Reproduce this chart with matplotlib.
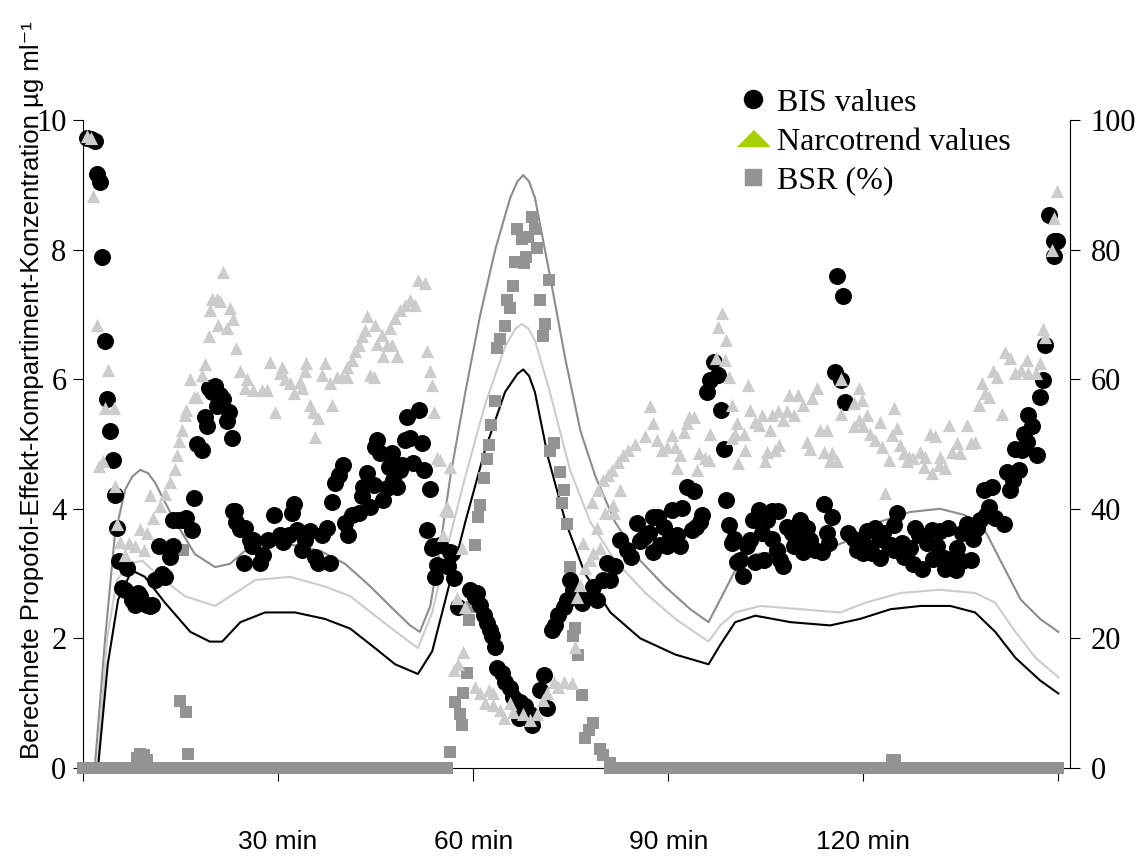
import matplotlib
matplotlib.use("Agg")
import matplotlib.pyplot as plt
from matplotlib.lines import Line2D

plt.rcParams["font.family"] = ["Liberation Serif", "DejaVu Serif"]

# calculated effect-site concentrations (left axis, ug/ml)
hi_t = [1.8, 3.4, 4.9, 6.5, 7.6, 8.8, 10.0, 11.1, 12.6, 14.2, 17.2, 20.3, 22.6, 24.9, 28.0, 31.8,
        36.5, 40.3, 44.2, 47.2, 50.3, 51.8, 53.4, 54.9, 56.5, 58.8, 61.1, 63.4, 65.7, 66.8, 67.7,
        68.6, 69.5, 71.8, 74.2, 76.5, 78.8, 81.8, 85.7, 89.5, 93.4, 96.2, 98.0, 100.3, 103.4,
        108.8, 114.9, 118.8, 122.6, 127.2, 131.8, 135.7, 138.8, 141.1, 144.2, 147.2, 150.0]
hi_c = [0.0, 2.0, 3.6, 4.3, 4.5, 4.6, 4.55, 4.4, 4.1, 3.8, 3.3, 3.1, 3.15, 3.35, 3.45, 3.45,
        3.35, 3.15, 2.8, 2.5, 2.2, 2.1, 2.5, 3.4, 4.5, 5.8, 7.0, 8.0, 8.8, 9.05, 9.15,
        9.05, 8.8, 7.6, 6.3, 5.2, 4.5, 3.8, 3.2, 2.8, 2.45, 2.25, 2.6, 3.05, 3.3,
        3.35, 3.4, 3.55, 3.8, 3.95, 4.0, 3.9, 3.65, 3.2, 2.6, 2.3, 2.1]

mid_t = [2.2, 3.7, 5.2, 7.2, 9.1, 11.8, 15.7, 20.3, 23.4, 26.5, 31.8, 37.2, 41.1, 44.9, 48.8,
         51.5, 53.7, 56.0, 58.8, 61.8, 64.9, 66.5, 67.5, 68.5, 69.5, 71.8, 74.9, 78.0, 81.8,
         86.5, 91.1, 96.2, 98.0, 100.3, 104.2, 110.3, 116.5, 120.3, 125.7, 131.8, 137.2, 140.3,
         143.4, 146.5, 150.0]
mid_c = [0.0, 2.0, 2.9, 3.15, 3.2, 2.95, 2.65, 2.5, 2.7, 2.9, 2.95, 2.8, 2.65, 2.35, 2.05,
         1.85, 2.4, 3.4, 4.5, 5.6, 6.5, 6.78, 6.85, 6.78, 6.6, 5.8, 4.6, 3.8, 3.2,
         2.7, 2.3, 1.95, 2.2, 2.4, 2.5, 2.45, 2.4, 2.55, 2.7, 2.75, 2.7, 2.55,
         2.1, 1.7, 1.4]

lo_t = [2.3, 3.8, 5.4, 7.5, 9.5, 12.6, 16.5, 19.5, 21.4, 24.2, 28.0, 32.6, 37.2, 41.1, 44.9,
        48.0, 51.5, 53.7, 56.0, 58.8, 61.8, 64.9, 66.8, 67.7, 68.6, 69.5, 71.5, 74.2, 77.2,
        81.1, 85.7, 91.1, 96.2, 98.0, 100.3, 103.4, 108.8, 114.9, 119.5, 124.2, 128.8, 133.4,
        137.2, 140.3, 143.4, 147.2, 150.0]
lo_c = [0.0, 1.6, 2.6, 3.05, 2.95, 2.55, 2.1, 1.95, 1.95, 2.25, 2.4, 2.4, 2.3, 2.15, 1.85,
        1.6, 1.45, 1.8, 2.7, 3.8, 4.9, 5.8, 6.08, 6.15, 6.05, 5.8, 4.8, 3.8, 3.0,
        2.4, 2.0, 1.75, 1.6, 1.9, 2.25, 2.35, 2.25, 2.2, 2.3, 2.45, 2.5, 2.5,
        2.4, 2.1, 1.7, 1.35, 1.15]

# BIS values (right axis)
bis_t = [0.6, 1.2, 1.8, 2.1, 2.6, 2.9, 3.4, 3.7, 4.2, 4.6, 4.9, 5.2, 5.6, 6.0, 6.5, 6.7, 7.5,
         8.0, 8.5, 8.8, 9.2, 9.8, 10.3, 10.6, 11.1, 11.7, 12.2, 12.6, 13.4, 13.9, 13.9, 14.6,
         15.4, 15.9, 16.7, 17.0, 17.5, 18.3, 18.8, 19.0, 19.3, 19.8, 20.3, 20.6, 21.1, 21.6,
         22.1, 22.4, 22.9, 23.1, 23.4, 23.6, 24.2, 24.7, 24.9, 25.7, 26.0, 26.2, 27.2, 27.7,
         28.5, 29.3, 30.3, 30.8, 31.6, 32.1, 32.5, 32.9, 33.6, 34.2, 34.9, 35.7, 36.2, 36.7,
         37.5, 38.0, 38.3, 38.8, 39.3, 40.0, 40.3, 40.8, 41.3, 42.4, 42.9, 43.1, 43.6, 44.2,
         44.7, 44.9, 45.2, 45.7, 46.2, 46.7, 47.0, 47.5, 47.7, 48.3, 48.8, 49.0, 49.5, 49.8,
         50.3, 50.8, 51.6, 52.1, 52.4, 52.9, 53.3, 53.6, 53.9, 54.2, 54.4, 54.9, 55.9, 56.2,
         56.5, 56.7, 57.0, 57.7, 59.5, 60.3, 60.6, 61.1, 61.6, 62.1, 62.6, 62.9, 63.4, 63.6,
         64.4, 64.9, 65.7, 66.2, 67.0, 67.2, 68.0, 68.8, 69.0, 70.3, 70.9, 71.3, 72.1, 72.6,
         73.1, 73.9, 74.4, 74.9, 75.4, 76.7, 77.5, 78.5, 79.0, 80.0, 80.6, 81.1, 81.8, 82.6,
         83.6, 84.2, 85.2, 85.7, 86.2, 87.0, 87.7, 87.7, 88.5, 88.8, 89.3, 89.8, 90.3, 90.6,
         91.3, 91.8, 92.1, 92.9, 93.6, 93.9, 94.2, 94.9, 95.2, 96.0, 96.5, 97.0, 97.7, 98.1,
         98.6, 98.9, 99.3, 99.8, 100.1, 100.6, 101.1, 101.5, 102.1, 102.6, 103.1, 103.4, 103.9,
         104.4, 104.7, 105.2, 105.9, 105.9, 106.7, 106.9, 107.2, 107.7, 108.2, 109.0, 109.3,
         109.8, 110.3, 110.8, 110.9, 111.3, 111.8, 112.6, 113.6, 113.9, 114.4, 114.7, 115.2,
         115.7, 115.9, 116.5, 116.9, 117.2, 117.7, 118.5, 119.0, 119.5, 120.0, 120.0, 120.6,
         121.1, 121.3, 121.6, 121.8, 122.6, 122.6, 123.1, 123.9, 124.2, 124.7, 124.7, 125.2,
         126.0, 126.2, 127.2, 127.7, 128.0, 128.5, 129.0, 129.8, 130.6, 130.8, 131.3, 131.8,
         132.4, 132.6, 133.1, 133.6, 134.3, 134.4, 135.2, 135.2, 136.0, 136.5, 136.9, 137.5,
         138.0, 138.5, 138.8, 139.4, 139.8, 140.3, 141.6, 142.1, 142.6, 143.1, 143.4, 143.9,
         144.4, 144.7, 145.2, 145.4, 146.0, 146.7, 147.2, 147.7, 148.0, 148.5, 149.3, 149.8,
         149.3]
bis_v = [97.2, 97.0, 96.8, 91.7, 90.5, 78.8, 65.9, 57.0, 52.0, 47.5, 42.1, 37.0, 32.0, 27.7, 27.5,
         30.9, 25.9, 25.2, 27.0, 26.5, 25.5, 25.2, 25.0, 25.1, 29.0, 34.2, 30.0, 29.5, 32.5, 34.2,
         38.3, 38.3, 38.3, 38.5, 36.8, 41.6, 50.0, 49.0, 54.2, 52.8, 58.6, 58.0, 59.0, 55.9, 57.5,
         56.9, 53.5, 54.9, 50.9, 39.7, 39.6, 38.0, 36.9, 31.6, 37.0, 35.2, 34.2, 35.2, 31.6, 32.9,
         35.2, 39.0, 36.0, 34.9, 36.0, 39.3, 40.8, 36.7, 33.6, 35.2, 36.5, 32.6, 31.6, 36.0, 37.0,
         31.6, 41.1, 43.9, 45.2, 46.8, 37.8, 36.0, 39.0, 39.3, 41.9, 43.4, 45.5, 40.3, 43.7, 49.6,
         50.6, 48.6, 41.4, 43.2, 46.5, 48.6, 44.4, 43.4, 46.0, 46.8, 50.6, 54.2, 50.9, 47.0, 55.2,
         50.1, 46.0, 36.7, 43.0, 33.9, 34.2, 29.5, 31.3, 34.4, 31.1, 31.1, 33.4, 33.1, 29.3, 24.9,
         27.5, 26.4, 27.0, 25.2, 23.6, 22.3, 21.3, 20.3, 18.7, 15.4, 14.6, 13.3, 12.3, 11.0, 7.7,
         10.2, 9.5, 8.4, 6.6, 12.0, 14.4, 9.2, 21.3, 22.1, 23.6, 24.9, 25.9, 29.0, 27.5, 25.4,
         26.4, 28.0, 25.9, 29.0, 31.6, 29.0, 31.1, 35.2, 33.6, 32.6, 37.8, 35.0, 35.7, 36.2, 38.8,
         33.4, 38.8, 34.4, 37.2, 34.2, 35.8, 39.8, 36.0, 34.2, 40.1, 43.4, 36.7, 42.7, 37.2, 38.0,
         39.0, 58.0, 59.9, 62.7, 60.6, 55.2, 49.2, 41.3, 37.5, 34.7, 35.4, 31.8, 32.1, 29.6, 34.2,
         35.2, 38.3, 31.8, 39.8, 36.2, 32.1, 38.3, 35.4, 39.6, 33.6, 39.6, 32.1, 31.1, 37.2, 36.2,
         34.2, 35.7, 38.3, 33.4, 34.7, 37.0, 35.2, 33.6, 33.4, 40.8, 36.2, 34.7, 38.7, 61.1, 75.9,
         59.9, 72.9, 56.5, 36.2, 35.4, 33.6, 34.7, 33.1, 34.7, 36.5, 33.9, 33.1, 36.5, 37.0, 35.4,
         32.4, 36.2, 34.2, 34.4, 37.5, 33.6, 39.3, 34.7, 32.6, 33.9, 31.5, 37.0, 36.0, 30.7, 34.7,
         36.7, 32.3, 34.2, 36.5, 32.4, 30.7, 37.0, 32.3, 30.6, 33.9, 36.2, 32.0, 37.7, 32.1, 35.4,
         37.0, 38.3, 42.9, 39.0, 40.3, 43.4, 38.5, 37.7, 45.7, 42.9, 44.4, 49.3, 46.0, 49.1, 51.6,
         50.3, 54.5, 52.7, 48.3, 57.3, 59.9, 65.3, 85.4, 81.3, 81.3, 79.0]

# Narcotrend values (right axis)
nt_t = [0.6, 1.2, 1.6, 2.1, 2.4, 3.1, 3.4, 3.9, 4.7, 4.9, 5.2, 5.7, 6.5, 7.0, 8.0, 8.8, 9.3, 9.8,
        10.3, 10.8, 11.8, 12.6, 13.4, 14.2, 14.4, 14.7, 15.2, 15.7, 15.9, 16.5, 17.0, 17.5, 18.3,
        18.8, 19.3, 19.5, 19.8, 20.6, 20.8, 21.1, 21.6, 22.1, 22.6, 23.1, 23.6, 24.2, 24.9, 25.2,
        26.2, 27.5, 28.3, 28.8, 29.5, 30.3, 30.6, 31.1, 31.8, 32.4, 33.4, 33.6, 34.2, 34.3, 34.9,
        35.4, 35.7, 36.2, 36.7, 37.2, 38.0, 38.3, 39.0, 39.8, 40.6, 40.6, 41.3, 41.8, 42.4, 42.9,
        43.4, 43.6, 44.2, 44.7, 44.9, 45.2, 46.0, 46.2, 46.7, 47.2, 47.5, 48.0, 48.3, 48.8, 49.5,
        50.3, 51.1, 51.5, 52.6, 52.9, 53.3, 53.6, 54.0, 54.4, 54.9, 55.4, 55.7, 55.9, 56.2, 56.5,
        57.0, 57.5, 57.7, 58.3, 58.5, 58.8, 60.3, 61.1, 61.8, 62.4, 63.1, 63.1, 64.2, 64.7, 65.7,
        66.2, 67.7, 68.8, 69.8, 70.8, 71.3, 72.4, 73.1, 73.9, 75.2, 75.7, 75.9, 76.5, 76.9, 77.2,
        78.0, 78.3, 78.5, 79.0, 79.2, 79.5, 80.0, 80.3, 80.8, 81.4, 81.5, 81.6, 82.3, 82.6, 83.1,
        83.8, 84.9, 86.5, 87.2, 87.7, 88.3, 89.0, 89.8, 90.6, 91.1, 91.3, 91.8, 92.4, 92.9, 93.2,
        93.9, 94.4, 94.7, 95.7, 96.2, 96.5, 97.4, 97.7, 98.3, 98.8, 98.9, 99.3, 99.8, 99.8, 100.3,
        100.6, 100.8, 101.6, 101.8, 102.2, 102.6, 103.4, 103.9, 104.4, 104.9, 105.2, 105.7, 105.9,
        106.5, 106.9, 107.0, 107.7, 108.2, 108.5, 109.3, 110.0, 110.8, 111.3, 111.8, 112.1, 112.9,
        113.4, 113.9, 114.4, 114.9, 115.2, 115.9, 116.5, 116.5, 118.5, 118.5, 119.3, 119.3, 119.8,
        120.6, 120.0, 121.1, 121.8, 122.6, 122.9, 123.4, 123.9, 124.4, 124.7, 125.2, 125.7, 126.2,
        126.7, 127.0, 127.7, 128.8, 129.3, 129.5, 130.3, 130.6, 131.1, 131.6, 131.8, 132.6, 133.2,
        133.7, 134.4, 134.9, 136.0, 136.5, 137.2, 137.8, 138.2, 138.7, 139.4, 140.0, 140.6, 141.3,
        141.8, 142.6, 143.4, 144.2, 145.2, 145.4, 146.5, 147.2, 147.7, 148.0, 149.0, 149.3, 149.8]
nt_v = [97.6, 97.2, 88.3, 68.3, 46.6, 47.3, 55.6, 61.4, 55.6, 43.5, 37.6, 34.9, 32.8, 34.7, 34.2,
        36.9, 33.6, 36.3, 42.1, 38.6, 40.4, 42.3, 44.2, 46.2, 48.3, 50.4, 52.2, 54.5, 55.2, 60.0,
        57.3, 57.3, 60.7, 62.4, 66.6, 70.7, 72.4, 72.4, 68.3, 72.1, 76.6, 67.9, 71.0, 69.3, 64.8,
        61.2, 58.6, 60.1, 58.3, 58.3, 58.3, 62.7, 55.0, 60.9, 61.9, 60.1, 59.4, 57.8, 59.6, 58.6,
        61.2, 62.5, 56.0, 55.0, 51.1, 54.0, 60.6, 62.5, 59.4, 56.0, 60.4, 60.4, 60.4, 61.9, 63.0,
        64.3, 65.3, 66.6, 67.6, 69.7, 60.6, 60.4, 68.3, 65.5, 66.8, 63.5, 65.3, 67.9, 65.3, 69.4,
        63.5, 70.7, 71.5, 72.2, 71.5, 75.3, 74.8, 64.3, 61.2, 59.1, 55.0, 47.8, 47.5, 36.0, 39.8,
        40.3, 39.6, 46.5, 15.1, 26.2, 16.1, 33.9, 17.9, 24.9, 12.5, 11.5, 10.0, 12.0, 11.5, 9.7,
        9.0, 7.7, 10.0, 8.7, 8.4, 7.4, 8.4, 10.5, 11.5, 13.3, 12.5, 13.3, 13.1, 18.7, 26.4, 28.2,
        34.7, 30.8, 32.1, 41.1, 33.1, 37.0, 42.9, 33.9, 44.4, 39.3, 45.2, 46.0, 40.6, 39.3, 47.2,
        42.9, 48.3, 49.1, 50.0, 51.2, 55.8, 53.2, 50.6, 49.1, 49.6, 51.4, 49.6, 46.3, 48.3, 51.9,
        53.2, 54.2, 54.2, 46.0, 48.6, 47.8, 47.5, 51.6, 63.2, 68.1, 70.2, 63.0, 66.0, 60.4, 56.0,
        50.9, 51.6, 53.2, 47.0, 51.6, 49.1, 59.1, 55.2, 53.4, 52.9, 54.5, 47.3, 48.8, 52.2, 54.5,
        49.1, 55.1, 49.8, 53.7, 55.1, 57.6, 54.5, 57.6, 56.0, 50.3, 49.3, 57.1, 58.6, 52.2, 48.8,
        52.2, 47.3, 48.6, 47.3, 54.7, 60.1, 56.3, 52.7, 58.6, 53.7, 56.8, 54.5, 52.7, 51.6, 50.6,
        53.4, 49.6, 42.4, 47.5, 51.4, 55.5, 52.4, 49.8, 48.6, 47.3, 48.0, 47.8, 48.8, 46.5, 48.0,
        51.6, 45.5, 51.2, 46.8, 48.0, 46.3, 52.9, 48.8, 50.1, 48.6, 52.9, 50.1, 50.3, 56.0, 59.4,
        57.8, 57.3, 61.2, 60.4, 54.7, 64.2, 63.2, 60.9, 61.4, 63.0, 60.9, 60.9, 62.5, 67.8, 66.5,
        80.0, 84.8, 89.0]

# BSR (%) - samples above zero
bsr_t = [8.3, 8.8, 9.3, 9.8, 14.9, 15.4, 15.8, 16.2, 56.5, 57.2, 58.0, 58.3, 58.5, 59.0, 59.4,
         59.8, 60.3, 60.8, 61.1, 61.6, 62.1, 62.4, 62.7, 63.3, 63.6, 64.2, 64.9, 65.2, 65.7, 66.2,
         66.5, 66.7, 67.5, 67.8, 68.2, 68.5, 69.0, 69.5, 69.8, 70.3, 70.7, 71.1, 71.6, 71.8, 72.4,
         73.3, 73.6, 73.9, 74.4, 74.9, 75.4, 75.7, 76.2, 76.7, 77.2, 77.8, 78.5, 79.5, 80.0, 81.1,
         124.4, 124.9]
bsr_v = [1.5, 2.2, 2.0, 1.2, 10.4, 33.6, 8.7, 2.2, 2.5, 10.2, 8.4, 6.6, 11.5, 14.6, 22.8,
         24.9, 34.4, 38.7, 40.6, 44.8, 47.7, 49.9, 53.0, 56.6, 64.8, 66.2, 68.2, 72.2, 71.0, 74.4,
         78.1, 83.2, 81.6, 77.9, 78.9, 81.9, 85.0, 83.2, 80.3, 72.2, 66.6, 68.5, 75.3, 48.9, 50.2,
         45.6, 40.9, 42.9, 37.7, 31.0, 20.3, 21.6, 17.4, 11.3, 4.6, 5.9, 6.9, 3.0, 2.0, 0.7,
         1.2, 1.2]
# BSR (%) - samples at zero
bsr0_t = [0, 1, 2, 3, 4, 5, 6, 7, 8, 9, 10, 11, 12, 13, 14, 15, 16, 17, 18, 19, 20, 21, 22, 23,
          24, 25, 26, 27, 28, 29, 30, 31, 32, 33, 34, 35, 36, 37, 38, 39, 40, 41, 42, 43, 44, 45,
          46, 47, 48, 49, 50, 51, 52, 53, 54, 55, 56,
          81, 82, 83, 84, 85, 86, 87, 88, 89, 90, 91, 92, 93, 94, 95, 96, 97, 98, 99, 100, 101,
          102, 103, 104, 105, 106, 107, 108, 109, 110, 111, 112, 113, 114, 115, 116, 117, 118,
          119, 120, 121, 122, 123, 124, 125, 126, 127, 128, 129, 130, 131, 132, 133, 134, 135,
          136, 137, 138, 139, 140, 141, 142, 143, 144, 145, 146, 147, 148, 149, 150]
bsr0_v = [0] * len(bsr0_t)

x_ticks = [0, 30, 60, 90, 120, 150]
x_labels = ["", "30 min", "60 min", "90 min", "120 min", ""]
legend_labels = ["BIS values", "Narcotrend values", "BSR (%)"]

fig = plt.figure(figsize=(11.47, 8.57), dpi=100)
ax = fig.add_axes([0.0724, 0.1039, 0.8605, 0.7561])
ax2 = ax.twinx()

ax.plot(hi_t, hi_c, color="#8c8c8c", lw=1.5)
ax.plot(mid_t, mid_c, color="#cccccc", lw=1.5)
ax.plot(lo_t, lo_c, color="black", lw=1.5)

ax2.scatter(bsr0_t, bsr0_v, marker="s", s=70, color="#939393", linewidths=0, clip_on=False)
ax2.scatter(bsr_t, bsr_v, marker="s", s=70, color="#939393", linewidths=0, clip_on=False)
ax2.scatter(bis_t, bis_v, marker="o", s=150, color="black", linewidths=0, clip_on=False)
ax2.scatter(nt_t, nt_v, marker="^", s=90, color="#cccccc", linewidths=0, clip_on=False)

ax.set_xlim(0, 151.8)
ax.set_ylim(0, 10)
ax2.set_ylim(0, 100)

for a in (ax, ax2):
    a.spines["top"].set_visible(False)
ax.spines["right"].set_visible(False)
ax2.spines["left"].set_visible(False)
ax2.spines["bottom"].set_visible(False)

ax.set_xticks(x_ticks)
ax.set_xticklabels(x_labels, family="Liberation Sans", fontsize=19)
ax.tick_params(axis="x", length=9, width=0.8, pad=36)
ax.set_yticks([0, 2, 4, 6, 8, 10])
ax.set_yticklabels(["0", "2", "4", "6", "8", "10"], fontsize=22)
ax.tick_params(axis="y", length=7, width=0.8, pad=5)
ax2.set_yticks([0, 20, 40, 60, 80, 100])
ax2.set_yticklabels(["0", "20", "40", "60", "80", "100"], fontsize=22)
ax2.tick_params(axis="y", length=7, width=0.8, pad=8)

fig.text(0.028, 0.545, "Berechnete Propofol-Effekt-Kompartiment-Konzentration µg ml⁻¹",
         rotation=90, ha="center", va="center", fontsize=18.5,
         family=["Liberation Sans", "DejaVu Sans"])

handles = [
    Line2D([], [], ls="", marker="o", color="black", markersize=13),
    Line2D([], [], ls="", marker=[(-1, -0.5), (1, -0.5), (0, 0.5)], color="#a8cf00",
           markersize=23),
    Line2D([], [], ls="", marker="s", color="#939393", markersize=12),
]
fig.legend(handles, legend_labels, loc="upper left", bbox_to_anchor=(0.6425, 0.897),
           frameon=False, fontsize=23, handlelength=1.0, handletextpad=0.25,
           labelspacing=0.3, borderaxespad=0, borderpad=0)

fig.savefig("out.png", dpi=100)
